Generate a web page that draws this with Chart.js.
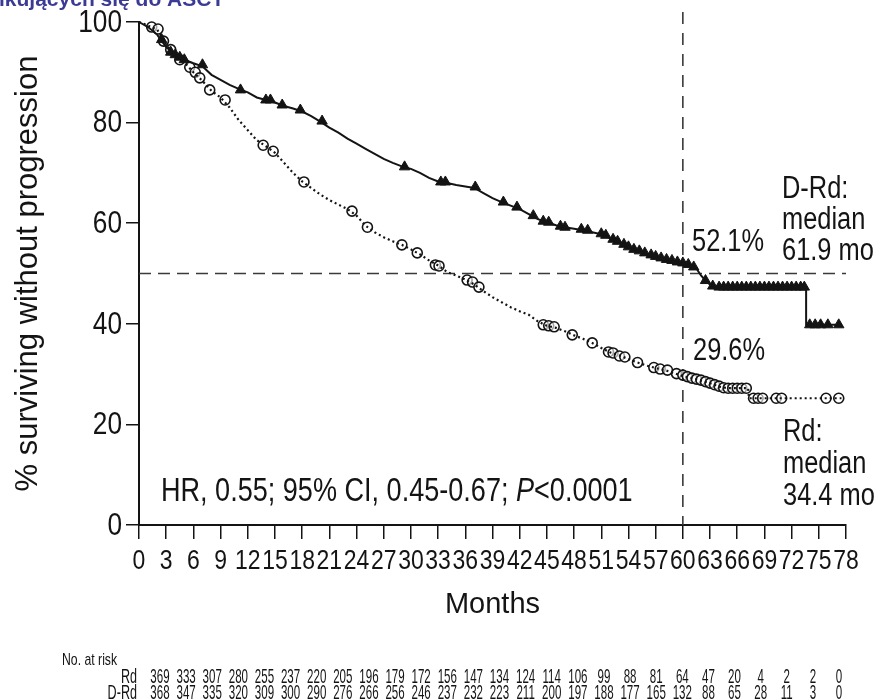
<!DOCTYPE html>
<html>
<head>
<meta charset="utf-8">
<script src="https://cdn.jsdelivr.net/npm/chart.js@4.4.1/dist/chart.umd.min.js"></script>
<style>
html,body{margin:0;padding:0;background:#fff}
#wrap{width:882px;height:699px;position:relative}
</style>
</head>
<body>
<div id="wrap"><canvas id="km" width="882" height="699"></canvas></div>
<script>
// x axis ticks (months) and the number-at-risk rows under them
const monthTicks = [0,3,6,9,12,15,18,21,24,27,30,33,36,39,42,45,48,51,54,57,60,63,66,69,72,75,78];
const pctTicks = [0,20,40,60,80,100];
const atRiskRd  = [369,333,307,280,255,237,220,205,196,179,172,156,147,134,124,114,106,99,88,81,64,47,20,4,2,2,0];
const atRiskDRd = [368,347,335,320,309,300,290,276,266,256,246,237,232,223,211,200,197,188,177,165,132,88,65,28,11,3,0];

// KM curves: [month, % surviving without progression]
const curveDRd = [[0,100],[1,99],[2,97.5],[3,95],[4,93.5],[5,92.5],[6,91.8],[7,91.2],[8,89.5],[9,88.5],[10,87.5],
  [11,86.7],[12,86],[13,85],[14,84.5],[15,84],[16,83.3],[17,82.8],[18,82.2],[19,81.3],[20,80.2],[21,79],[22,78],
  [23,76.8],[24,75.8],[25,74.8],[26,73.8],[27,72.8],[28,72],[29,71.3],[30,70.8],[31,70],[32,69],[33,68.3],[34,68],
  [35,67.6],[36,67.3],[37,67],[38,66],[39,65],[40,64.2],[41,63.5],[42,62.8],[43,61.8],[44,60.8],[45,60.2],[46,59.6],
  [47,59.2],[48,58.9],[49,58.6],[50,58.2],[51,57.8],[52,57],[53,56.1],[54,55.3],[55,54.4],[56,53.9],[57,53.4],
  [58,52.9],[59,52.4],[60,52.1],[61,51.5],[61.5,51],[62,49.6],[62.5,48.6],[63,47.8],[63.6,47.3],[73.6,47.3],
  [73.6,39.8],[77.5,39.8]];
const curveRd = [[0,100],[1,99.3],[2,98.5],[3,95.5],[4,93.5],[5,92],[6,90],[7,88.3],[8,86.3],[9,85],[10,83],
  [11,80.5],[12,78.5],[13,76.5],[14,75.3],[15,74],[16,72],[17,70],[18,68.3],[19,67],[20,65.7],[21,64.6],[22,63.7],
  [23,62.8],[24,61.5],[25,59.5],[26,58.2],[27,57.2],[28,56.4],[29,55.7],[30,54.8],[31,53.8],[32,52.6],[33,51.6],
  [34,50.3],[35,49.6],[36,48.8],[37,47.8],[38,46.5],[39,45.3],[40,44.3],[41,43.3],[42,42.5],[43,41.8],[44,40.5],
  [45,39.6],[46,39.2],[47,38.5],[48,37.7],[49,37],[50,36.2],[51,35.2],[52,34.3],[53,33.7],[54,33],[55,32.3],
  [56,31.7],[57,31.2],[58,30.8],[59,30.2],[60,29.6],[61,29.2],[62,28.7],[63,28.2],[64,27.5],[65,27.2],[67.2,27.2],
  [67.3,25.2],[77.5,25.2]];

// censor marks
const censorDRd = [[2.5,96.5],[3.5,94],[4,93.5],[4.5,93],[5,92.5],[7,91.5],[11.2,86.5],[14,84.5],[14.5,84.5],
  [15.8,83.5],[17.8,82.5],[20.2,80.3],[29.3,71.2],[33.3,68.2],[33.8,68.2],[37.1,67.2],[40.2,64.2],[41.7,63.2],
  [43.5,61.5],[44.6,60.4],[45.2,60.2],[46.5,59.4],[47,59.2],[48.8,58.8],[49.5,58.6],[51,57.9],[51.5,57.6],
  [52.3,56.8],[52.8,56.4],[53.5,55.8],[54,55.3],[54.6,54.8],[55.2,54.5],[55.8,54.1],[56.5,53.7],[57,53.4],
  [57.6,53.1],[58.2,52.8],[58.8,52.6],[59.4,52.3],[60,52.1],[60.6,51.8],[61.2,51.3],[62.5,48.6],[63.3,47.5],
  [64,47.3],[64.5,47.3],[65,47.3],[65.5,47.3],[66,47.3],[66.5,47.3],[67,47.3],[67.5,47.3],[68,47.3],[68.5,47.3],
  [69,47.3],[69.5,47.3],[70,47.3],[70.5,47.3],[71,47.3],[71.5,47.3],[72,47.3],[72.5,47.3],[73,47.3],[73.4,47.3],
  [74,39.8],[74.6,39.8],[75.2,39.8],[76,39.8],[77.2,39.8]];
const censorRd = [[1.4,99],[2.1,98.6],[2.7,96.2],[3.5,94.5],[4.5,92.5],[5.6,91],[6.2,90],[6.7,88.9],[7.8,86.5],
  [9.5,84.5],[13.7,75.5],[14.8,74.3],[18.2,68.2],[23.5,62.4],[25.2,59.2],[29,55.7],[30.7,54.1],[32.7,51.7],
  [33.1,51.5],[36.2,48.7],[36.8,48.3],[37.5,47.3],[44.6,39.8],[45.2,39.6],[45.8,39.4],[47.8,37.8],[50,36.2],
  [51.8,34.4],[52.3,34.2],[53,33.6],[53.6,33.4],[55,32.3],[56.8,31.3],[57.5,31],[58.3,30.8],[59.3,30.1],[60,29.8],
  [60.5,29.5],[61,29.2],[61.5,29],[62,28.8],[62.5,28.5],[63,28.2],[63.5,27.9],[64,27.6],[64.5,27.3],[65,27.2],
  [65.5,27.2],[66,27.2],[66.5,27.2],[67,27.2],[67.8,25.2],[68.3,25.2],[68.8,25.2],[70.3,25.2],[70.9,25.2],
  [75.8,25.2],[77.2,25.2]];

const SANS = "'Liberation Sans', Arial, sans-serif";
const SQ = 0.82;   // horizontal squeeze to get a narrow face
const INK = '#141414';

function pts(a){ return a.map(p=>({x:p[0], y:p[1]})); }

function squeezed(ctx, s, x, y, sx, align){
  ctx.save();
  ctx.translate(x, y);
  ctx.scale(sx, 1);
  ctx.textAlign = align || 'left';
  ctx.fillText(s, 0, 0);
  ctx.restore();
}

const extras = {
  id:'extras',
  beforeDatasetsDraw(chart){
    const {ctx, chartArea:a, scales:{x, y}} = chart;
    ctx.save();
    ctx.strokeStyle = '#3a3a3a';
    ctx.lineWidth = 1.6;
    ctx.setLineDash([12,7]);
    ctx.beginPath();
    ctx.moveTo(a.left, y.getPixelForValue(50));
    ctx.lineTo(a.right, y.getPixelForValue(50));
    ctx.stroke();
    ctx.setLineDash([12,9]);
    ctx.beginPath();
    ctx.moveTo(x.getPixelForValue(60), 12);
    ctx.lineTo(x.getPixelForValue(60), a.bottom);
    ctx.stroke();
    ctx.restore();
  },
  afterDraw(chart){
    const {ctx, chartArea:a, scales:{x, y}} = chart;
    ctx.save();
    // cut-off heading from the page above
    ctx.fillStyle = '#3b3b96';
    ctx.font = 'bold 21px ' + SANS;
    ctx.textBaseline = 'alphabetic';
    ctx.fillText('ikujących się do ASCT', -1, 6);

    ctx.fillStyle = INK;
    // tick labels in a narrow face
    ctx.font = '28px ' + SANS;
    ctx.textBaseline = 'top';
    x.ticks.forEach(t => squeezed(ctx, String(t.value), x.getPixelForValue(t.value), a.bottom + 22, SQ, 'center'));
    ctx.font = '32px ' + SANS;
    ctx.textBaseline = 'middle';
    y.ticks.forEach(t => squeezed(ctx, String(t.value), a.left - 17, y.getPixelForValue(t.value) + 1, SQ, 'right'));

    ctx.textBaseline = 'alphabetic';
    ctx.font = '31px ' + SANS;
    squeezed(ctx, '52.1%', 692, 251, SQ);
    squeezed(ctx, '29.6%', 693, 360, SQ);
    squeezed(ctx, 'D-Rd:', 782, 198, SQ);
    squeezed(ctx, 'median', 782, 229, SQ);
    squeezed(ctx, '61.9 mo', 782, 260, SQ);
    squeezed(ctx, 'Rd:', 783, 441, SQ);
    squeezed(ctx, 'median', 783, 473, SQ);
    squeezed(ctx, '34.4 mo', 783, 505, SQ);

    // HR text with italic P
    const hsz = 33;
    ctx.font = hsz + 'px ' + SANS;
    let hx = 161;
    const part1 = 'HR, 0.55; 95% CI, 0.45-0.67; ';
    squeezed(ctx, part1, hx, 501, SQ);
    hx += ctx.measureText(part1).width * SQ;
    ctx.font = 'italic ' + hsz + 'px ' + SANS;
    squeezed(ctx, 'P', hx, 501, SQ);
    hx += ctx.measureText('P').width * SQ;
    ctx.font = hsz + 'px ' + SANS;
    squeezed(ctx, '<0.0001', hx, 501, SQ);

    // number at risk table
    ctx.font = '17px ' + SANS;
    squeezed(ctx, 'No. at risk', 62, 665, 0.72);
    ctx.font = '21px ' + SANS;
    squeezed(ctx, 'Rd', 137, 683, 0.6, 'right');
    squeezed(ctx, 'D-Rd', 137, 699, 0.6, 'right');
    const c0 = x.getPixelForValue(monthTicks[0]) + 21;
    const c1 = x.getPixelForValue(monthTicks[monthTicks.length-1]) - 7;
    const step = (c1 - c0) / (monthTicks.length - 1);
    atRiskRd.forEach((v,i)=> squeezed(ctx, String(v), c0 + i*step, 683, 0.55, 'center'));
    atRiskDRd.forEach((v,i)=> squeezed(ctx, String(v), c0 + i*step, 699, 0.55, 'center'));
    ctx.restore();
  }
};

new Chart(document.getElementById('km'), {
  type:'line',
  data:{
    datasets:[
      { label:'D-Rd', data:pts(curveDRd), borderColor:INK, borderWidth:2, pointRadius:0, tension:0, clip:false },
      { label:'Rd', data:pts(curveRd), borderColor:INK, borderWidth:2.2, borderDash:[2,3], pointRadius:0, tension:0, clip:false },
      { label:'D-Rd censored', type:'scatter', data:pts(censorDRd), pointStyle:'triangle', pointRadius:6,
        backgroundColor:INK, borderColor:INK, borderWidth:1, clip:false },
      { label:'Rd censored', type:'scatter', data:pts(censorRd), pointStyle:'circle', pointRadius:5,
        backgroundColor:'rgba(255,255,255,0.6)', borderColor:INK, borderWidth:1.6, clip:false }
    ]
  },
  options:{
    responsive:false,
    animation:false,
    layout:{ padding:{ left:0, top:22, right:36, bottom:74 } },
    plugins:{ legend:{display:false}, tooltip:{enabled:false} },
    scales:{
      x:{
        type:'linear', min:0, max:78,
        afterBuildTicks: s => { s.ticks = monthTicks.map(v=>({value:v})); },
        afterFit: s => { s.height = 100; },
        ticks:{ display:false },
        grid:{ drawOnChartArea:false, tickLength:14, color:INK, lineWidth:1.5 },
        border:{ display:true, color:INK, width:2 },
        title:{ display:true, text:'Months', color:INK, font:{ family:SANS, size:29 }, padding:{top:0, bottom:3} }
      },
      y:{
        min:0, max:100,
        afterBuildTicks: s => { s.ticks = pctTicks.map(v=>({value:v})); },
        afterFit: s => { s.width = 139; },
        ticks:{ display:false },
        grid:{ drawOnChartArea:false, tickLength:13, color:INK, lineWidth:1.5 },
        border:{ display:true, color:INK, width:2 },
        title:{ display:true, text:'% surviving without progression', color:INK,
                font:{ family:SANS, size:31 }, padding:{top:10, bottom:0} }
      }
    }
  },
  plugins:[extras]
});
</script>
</body>
</html>
